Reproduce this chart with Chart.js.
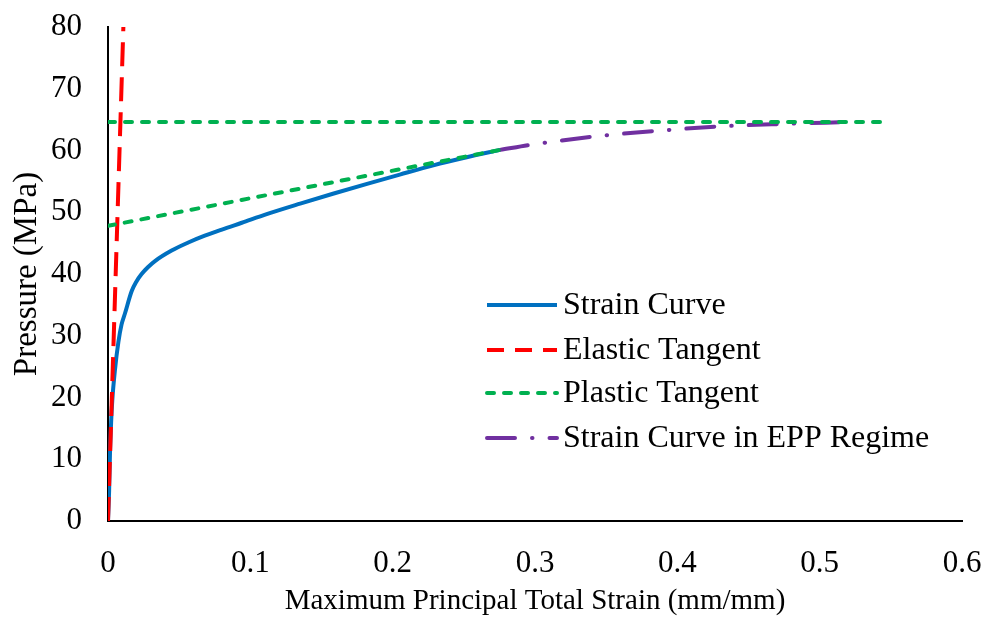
<!DOCTYPE html>
<html>
<head>
<meta charset="utf-8">
<script src="https://cdn.jsdelivr.net/npm/chart.js@4.4.1/dist/chart.umd.min.js"></script>
<style>
  html, body { margin: 0; padding: 0; background: #fff; }
  #wrap { width: 989px; height: 619px; }
</style>
</head>
<body>
<div id="wrap"><canvas id="strainChart"></canvas></div>
<script>
// strain (mm/mm) vs pressure (MPa)
const strainCurve = [
  [0, 0], [0.0008, 5], [0.0014, 11], [0.0022, 16], [0.0030, 19.5], [0.0049, 24.5],
  [0.0073, 29.0], [0.0095, 31.8], [0.0119, 33.6], [0.0166, 37.2], [0.0200, 38.8],
  [0.0236, 40.0], [0.028, 41.1], [0.033, 42.1], [0.0447, 43.8], [0.0564, 45.1],
  [0.068, 46.2], [0.080, 47.2], [0.094, 48.3], [0.1115, 49.7], [0.135, 51.4],
  [0.158, 53.0], [0.182, 54.6], [0.205, 56.1], [0.2286, 57.6], [0.252, 58.9],
  [0.2755, 60.1]
];
const elasticTangent = [[0, 0], [0.0108, 80]];
const plasticSlope = [[0, 47.8], [0.2755, 60.1]];
const plasticFlat = [[0, 64.6], [0.545, 64.6]];
const eppCurve = [
  [0.2755, 60.1], [0.299, 61.0], [0.343, 62.3], [0.387, 63.2],
  [0.430, 63.9], [0.474, 64.3], [0.518, 64.6]
];
const seriesNames = ['Strain Curve', 'Elastic Tangent', 'Plastic Tangent', 'Strain Curve in EPP Regime'];
const xTicks = [0, 0.1, 0.2, 0.3, 0.4, 0.5, 0.6];
const yTicks = [0, 10, 20, 30, 40, 50, 60, 70, 80];

const toPts = arr => arr.map(p => ({ x: p[0], y: p[1] }));
const serif = "'Liberation Serif', 'Times New Roman', serif";

// legend drawn as line samples inside the plot area
const lineLegend = {
  id: 'lineLegend',
  afterDraw(chart) {
    const ctx = chart.ctx;
    const left = 487, right = 557, textX = 563;
    const rows = [305, 350, 393, 438];
    ctx.save();
    ctx.font = '32px ' + serif;
    ctx.textBaseline = 'middle';
    ctx.textAlign = 'left';
    chart.data.datasets.forEach((ds, i) => {
      const y = rows[i];
      ctx.strokeStyle = ds.borderColor;
      ctx.lineWidth = ds.borderWidth;
      ctx.lineCap = ds.borderCapStyle || 'butt';
      ctx.setLineDash(ds.legendDash || ds.borderDash || []);
      ctx.beginPath();
      ctx.moveTo(left, y);
      ctx.lineTo(right, y);
      ctx.stroke();
      ctx.setLineDash([]);
      ctx.fillStyle = '#000';
      ctx.fillText(ds.label, textX, y + 1);
    });
    ctx.restore();
  }
};

new Chart(document.getElementById('strainChart'), {
  type: 'line',
  data: {
    datasets: [
      {
        label: seriesNames[0],
        data: toPts(strainCurve),
        borderColor: '#0070C0',
        borderWidth: 4,
        cubicInterpolationMode: 'monotone',
        order: 4
      },
      {
        label: seriesNames[1],
        data: toPts(elasticTangent),
        borderColor: '#FF0000',
        borderWidth: 4,
        borderDash: [24, 11],
        legendDash: [17, 11],
        order: 2
      },
      {
        label: seriesNames[2],
        data: toPts(plasticSlope).concat([{ x: 0.001, y: null }], toPts(plasticFlat)),
        borderColor: '#00B050',
        borderWidth: 4,
        borderDash: [7, 10],
        borderCapStyle: 'round',
        spanGaps: false,
        order: 1
      },
      {
        label: seriesNames[3],
        data: toPts(eppCurve),
        borderColor: '#7030A0',
        borderWidth: 4,
        borderDash: [28, 17, 0.5, 17],
        borderCapStyle: 'round',
        cubicInterpolationMode: 'monotone',
        order: 3
      }
    ]
  },
  plugins: [lineLegend],
  options: {
    responsive: true,
    maintainAspectRatio: false,
    animation: false,
    parsing: false,
    elements: { point: { radius: 0, hoverRadius: 0 } },
    layout: { padding: { top: 27, right: 27, left: 0, bottom: 0 } },
    plugins: {
      legend: { display: false },
      tooltip: { enabled: false }
    },
    scales: {
      x: {
        type: 'linear',
        min: 0,
        max: 0.6,
        // fixed band height; end labels may hang past the plot edges
        afterFit: s => { s.height = 98; s.paddingLeft = 0; s.paddingRight = 0; },
        afterBuildTicks: s => { s.ticks = xTicks.map(v => ({ value: v })); },
        grid: { display: false, drawTicks: false },
        border: { color: '#000', width: 2 },
        ticks: {
          color: '#000',
          padding: 24,
          font: { family: serif, size: 31 },
          callback: v => v === 0 ? '0' : v.toFixed(1)
        },
        title: {
          display: true,
          text: 'Maximum Principal Total Strain (mm/mm)',
          color: '#000',
          padding: 0,
          font: { family: serif, size: 29 }
        }
      },
      y: {
        type: 'linear',
        min: 0,
        max: 80,
        afterFit: s => { s.width = 108; s.paddingTop = 0; s.paddingBottom = 0; },
        afterBuildTicks: s => { s.ticks = yTicks.map(v => ({ value: v })); },
        grid: { display: false, drawTicks: false },
        border: { color: '#000', width: 2 },
        ticks: {
          color: '#000',
          padding: 26,
          font: { family: serif, size: 31 }
        },
        title: {
          display: true,
          text: 'Pressure (MPa)',
          color: '#000',
          padding: { top: 8, bottom: 0 },
          font: { family: serif, size: 33 }
        }
      }
    }
  }
});
</script>
</body>
</html>
